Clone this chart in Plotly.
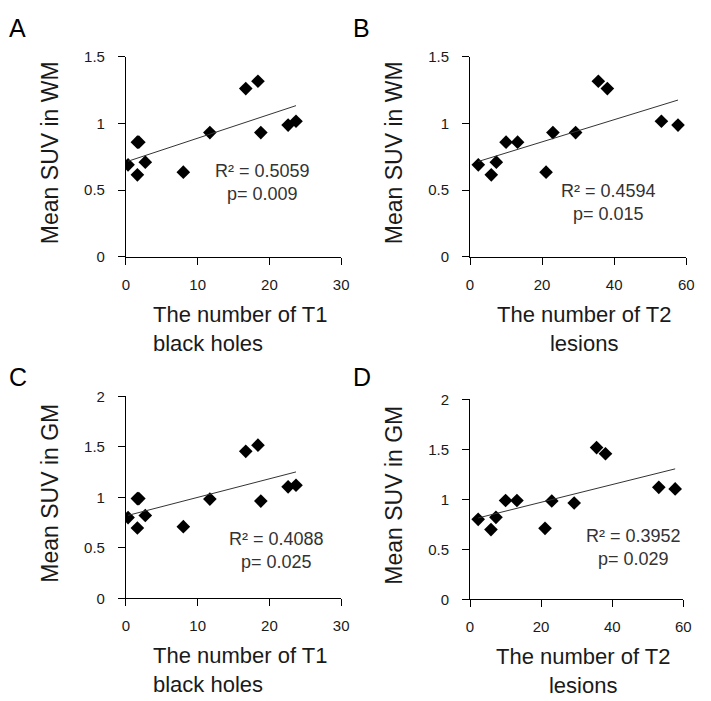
import numpy as np
import plotly.graph_objects as go

# 12 subjects, same order in every panel
t1_black_holes = [0.3, 1.6, 2.7, 1.6, 1.8, 8.0, 11.7, 18.8, 18.4, 16.7, 23.7, 22.6]
t2_lesions = [2.3, 5.9, 7.3, 10.0, 13.2, 21.1, 23.0, 29.3, 35.6, 38.1, 53.1, 57.7]
suv_wm = [0.69, 0.615, 0.71, 0.86, 0.86, 0.635, 0.932, 0.932, 1.317, 1.262, 1.017, 0.988]
suv_gm = [0.80, 0.697, 0.82, 0.988, 0.988, 0.71, 0.983, 0.963, 1.517, 1.456, 1.12, 1.104]

stats = ["R² = 0.5059<br>p= 0.009", "R² = 0.4594<br>p= 0.015",
         "R² = 0.4088<br>p= 0.025", "R² = 0.3952<br>p= 0.029"]

W, H = 711, 701
FONT = "Liberation Sans"
INK = "#1a1a1a"


def px_x(p):
    return p / W


def px_y(p):
    return 1 - p / H


# panel: letter, x data, y data, x range, y range, x dtick, y dtick, plot box in pixels,
# x title, y title, title align, stats text centre, letter centre y
panels = [
    ("A", t1_black_holes, suv_wm, [0, 30], [0, 1.5], 10, 0.5, (124, 343, 49, 254),
     "The number of T1<br>black holes", "Mean SUV in WM", "left", (263, 178), 17),
    ("B", t2_lesions, suv_wm, [0, 60], [0, 1.5], 20, 0.5, (474, 694, 49, 254),
     "The number of T2<br>lesions", "Mean SUV in WM", "center", (615, 198), 17),
    ("C", t1_black_holes, suv_gm, [0, 30], [0, 2], 10, 0.5, (124, 343, 397, 604),
     "The number of T1<br>black holes", "Mean SUV in GM", "left", (277, 555), 375),
    ("D", t2_lesions, suv_gm, [0, 60], [0, 2], 20, 0.5, (474, 691, 400, 605),
     "The number of T2<br>lesions", "Mean SUV in GM", "center", (640, 552), 375),
]

fig = go.Figure()
annotations = []
layout_axes = {}

for i, (letter, xs, ys, xr, yr, dx, dy, box, xt, yt, align, st, ly) in enumerate(panels):
    n = "" if i == 0 else str(i + 1)
    x0, x1, y0, y1 = box
    xa, ya = "x" + n, "y" + n

    fig.add_trace(go.Scatter(
        x=xs, y=ys, mode="markers", xaxis=xa, yaxis=ya, showlegend=False,
        marker=dict(symbol="diamond", size=10.5, color="black"),
    ))
    slope, icpt = np.polyfit(xs, ys, 1)
    lx = [min(xs), max(xs)]
    fig.add_trace(go.Scatter(
        x=lx, y=[slope * v + icpt for v in lx], mode="lines", xaxis=xa, yaxis=ya,
        showlegend=False, line=dict(color="#333333", width=1),
    ))

    layout_axes["xaxis" + n] = dict(
        domain=[px_x(x0), px_x(x1)], range=xr, dtick=dx, anchor=ya,
        showline=True, linecolor="black", linewidth=1, ticks="outside", ticklen=7,
        tickcolor="black", showgrid=False, zeroline=False,
        tickfont=dict(family=FONT, size=15, color=INK), ticklabelstandoff=7,
    )
    layout_axes["yaxis" + n] = dict(
        domain=[px_y(y1), px_y(y0)], range=yr, dtick=dy, anchor=xa,
        showline=True, linecolor="black", linewidth=1, ticks="outside", ticklen=7,
        tickcolor="black", showgrid=False, zeroline=False,
        tickfont=dict(family=FONT, size=15, color=INK), ticklabelstandoff=10,
    )

    ox = 0 if letter in "AC" else 350
    annotations.append(dict(
        text=letter, x=px_x(ox + 3), y=px_y(ly + 2), xref="paper", yref="paper",
        xanchor="left", yanchor="middle", showarrow=False,
        font=dict(family=FONT, size=25, color="black"),
    ))
    annotations.append(dict(
        text=yt, textangle=-90, x=px_x(ox + 47), y=px_y((y0 + y1) / 2 - 4),
        xref="paper", yref="paper", xanchor="center", yanchor="middle", showarrow=False,
        font=dict(family=FONT, size=23, color=INK),
    ))
    if align == "left":
        annotations.append(dict(
            text=xt, align="left", x=px_x(x0 + 26), y=px_y(y1 + 44),
            xref="paper", yref="paper", xanchor="left", yanchor="top", showarrow=False,
            font=dict(family=FONT, size=22, color=INK),
        ))
    else:
        annotations.append(dict(
            text=xt, align="center", x=px_x((x0 + x1) / 2 + 6), y=px_y(y1 + 44),
            xref="paper", yref="paper", xanchor="center", yanchor="top", showarrow=False,
            font=dict(family=FONT, size=22, color=INK),
        ))
    annotations.append(dict(
        text=stats[i], align="center", x=px_x(st[0]), y=px_y(st[1]),
        xref="paper", yref="paper", xanchor="center", yanchor="middle", showarrow=False,
        font=dict(family=FONT, size=18, color="#333333"),
    ))

fig.update_layout(
    width=W, height=H,
    margin=dict(l=0, r=0, t=0, b=0),
    plot_bgcolor="white", paper_bgcolor="white",
    annotations=annotations,
    **layout_axes,
)

# drop the browser's default 8px body margin so pixel positions line up
fig.write_html("out.html", config={"displayModeBar": False},
               post_script="document.body.style.margin = '0';")
